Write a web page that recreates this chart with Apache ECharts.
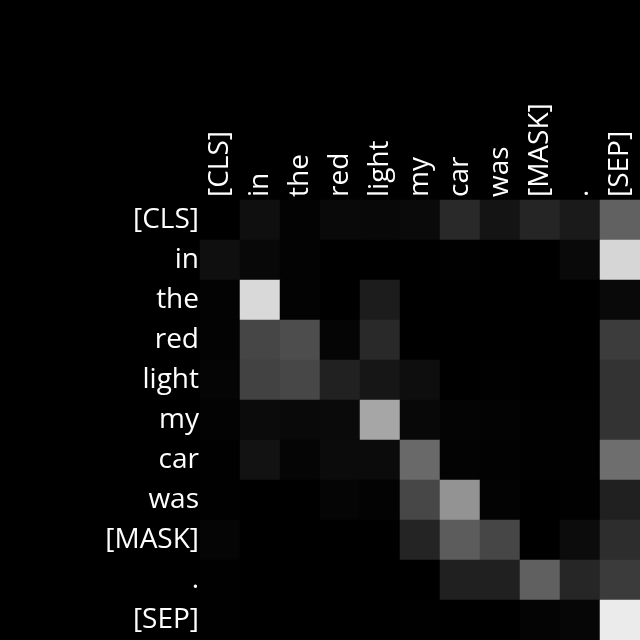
<!DOCTYPE html>
<html><head><meta charset="utf-8">
<script src="https://cdn.jsdelivr.net/npm/echarts@6/dist/echarts.min.js"></script>
<style>html,body{margin:0;padding:0;background:#000}#c{width:640px;height:640px}</style>
</head><body><div id="c"></div>
<script>
const tokens = ['[CLS]','in','the','red','light','my','car','was','[MASK]','.','[SEP]'];
const attention = [
  [0.00,0.06,0.01,0.035,0.03,0.04,0.16,0.08,0.145,0.10,0.38],
  [0.06,0.03,0.01,0.00,0.00,0.00,0.005,0.00,0.00,0.035,0.84],
  [0.01,0.85,0.01,0.00,0.11,0.00,0.00,0.00,0.00,0.00,0.035],
  [0.01,0.275,0.30,0.02,0.16,0.00,0.00,0.00,0.00,0.00,0.235],
  [0.02,0.26,0.28,0.13,0.086,0.055,0.00,0.005,0.00,0.00,0.20],
  [0.01,0.043,0.035,0.04,0.65,0.03,0.015,0.01,0.005,0.003,0.20],
  [0.005,0.07,0.02,0.043,0.043,0.41,0.012,0.008,0.004,0.004,0.43],
  [0.005,0.00,0.00,0.02,0.01,0.28,0.576,0.012,0.00,0.004,0.125],
  [0.02,0.00,0.00,0.00,0.00,0.14,0.36,0.275,0.00,0.047,0.176],
  [0.005,0.00,0.00,0.00,0.00,0.00,0.125,0.125,0.376,0.15,0.23],
  [0.005,0.00,0.00,0.00,0.00,0.004,0.00,0.00,0.016,0.024,0.92]
];
const data = [];
attention.forEach((row, r) => row.forEach((v, c) => data.push([c, r, v])));
const chart = echarts.init(document.getElementById('c'));
chart.setOption({
  backgroundColor: '#000',
  animation: false,
  grid: {left: 200, top: 200, width: 440, height: 440},
  xAxis: {type: 'category', data: tokens, position: 'top',
    axisLine: {show: false}, axisTick: {show: false}, splitLine: {show: false},
    axisLabel: {rotate: -90, color: '#fff', fontSize: 28, fontFamily: 'Open Sans', margin: 3, interval: 0}},
  yAxis: {type: 'category', data: tokens, inverse: true,
    axisLine: {show: false}, axisTick: {show: false}, splitLine: {show: false},
    axisLabel: {color: '#fff', fontSize: 28, fontFamily: 'Open Sans', margin: 1, interval: 0, padding: [4, 0, 0, 0]}},
  visualMap: {show: false, min: 0, max: 1, dimension: 2, inRange: {color: ['#000000', '#ffffff']}},
  series: [{type: 'heatmap', data: data, itemStyle: {borderWidth: 0}}]
});
</script></body></html>
